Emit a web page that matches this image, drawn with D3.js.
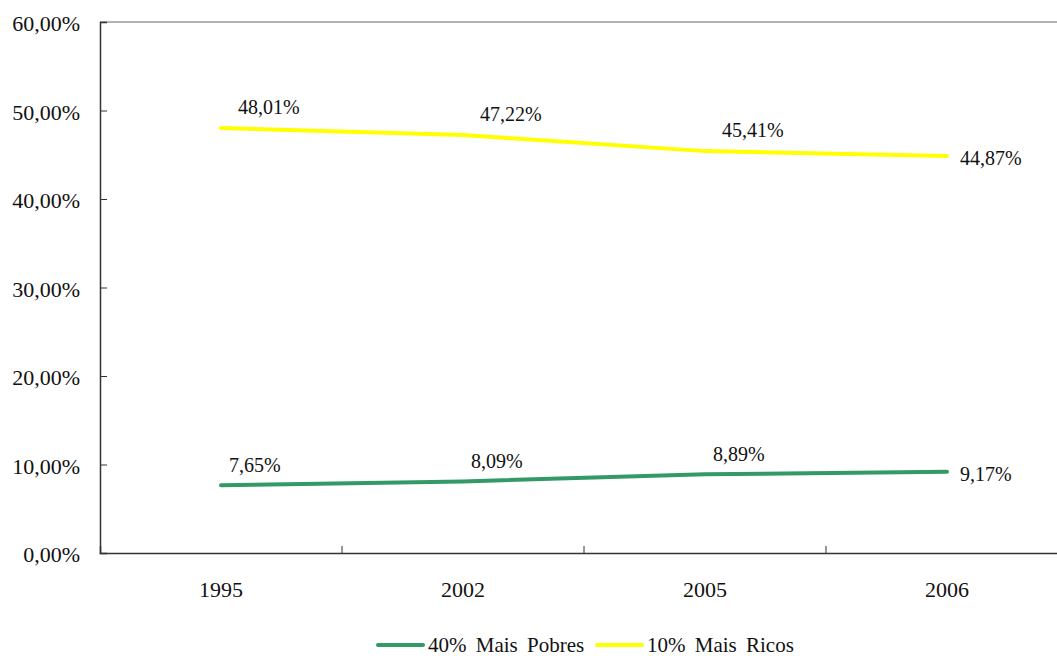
<!DOCTYPE html>
<html>
<head>
<meta charset="utf-8">
<script src="https://cdn.jsdelivr.net/npm/d3@7"></script>
<style>
  body { margin: 0; background: #fff; }
</style>
</head>
<body>
<script>
  const years = ['1995', '2002', '2005', '2006'];
  const pobres = [7.65, 8.09, 8.89, 9.17];
  const ricos = [48.01, 47.22, 45.41, 44.87];
  const seriesNames = ['40% Mais Pobres', '10% Mais Ricos'];
  const seriesColors = ['#339966', '#ffff00'];
  const yTicks = [0, 10, 20, 30, 40, 50, 60];

  const width = 1057;
  const height = 656;
  const margin = { top: 22, left: 100, bottom: 103 };
  const plotRight = 1068;

  const fmt = v => d3.format('.2f')(v).replace('.', ',') + '%';

  const svg = d3.select('body').append('svg')
    .attr('width', width)
    .attr('height', height)
    .style('font-family', "'Liberation Serif', 'DejaVu Serif', serif")
    .attr('fill', '#111');

  const x = d3.scaleBand()
    .domain(years)
    .range([margin.left, plotRight]);

  const y = d3.scaleLinear()
    .domain([0, 60])
    .range([height - margin.bottom, margin.top]);

  // top border
  svg.append('line')
    .attr('x1', margin.left).attr('x2', plotRight)
    .attr('y1', y(60)).attr('y2', y(60))
    .attr('stroke', '#999').attr('stroke-width', 1.5);

  // y axis
  const yAxis = svg.append('g')
    .attr('transform', `translate(${margin.left},0)`)
    .call(d3.axisRight(y).tickValues(yTicks).tickSize(7).tickFormat(''));
  yAxis.select('.domain').attr('stroke', '#333').attr('stroke-width', 1.5);
  yAxis.selectAll('.tick line').attr('stroke', '#333');

  svg.append('g').selectAll('text')
    .data(yTicks)
    .enter().append('text')
      .attr('x', 80)
      .attr('y', d => y(d) + 9)
      .attr('text-anchor', 'end')
      .style('font-size', '22px')
      .text(fmt);

  // x axis
  const xAxis = svg.append('g')
    .attr('transform', `translate(0,${y(0)})`)
    .call(d3.axisTop(x).tickValues(years.slice(1)).tickSize(7).tickFormat(''));
  xAxis.selectAll('.tick line')
    .attr('transform', `translate(${-x.bandwidth() / 2},0)`)
    .attr('stroke', '#333');
  xAxis.select('.domain').attr('stroke', '#333').attr('stroke-width', 1.5);

  svg.append('g').selectAll('text')
    .data(years)
    .enter().append('text')
      .attr('x', d => x(d) + x.bandwidth() / 2)
      .attr('y', y(0) + 44)
      .attr('text-anchor', 'middle')
      .style('font-size', '22px')
      .text(d => d);

  const cx = d => x(d) + x.bandwidth() / 2;
  const line = d3.line()
    .x((d, i) => cx(years[i]))
    .y(d => y(d));

  // label offsets per series: [dx, dy] above the points, last one to the right
  const labelDx = [8, 17];
  const labelDy = [-13, -14];

  [pobres, ricos].forEach((vals, s) => {
    svg.append('path')
      .datum(vals)
      .attr('fill', 'none')
      .attr('stroke', seriesColors[s])
      .attr('stroke-width', 4)
      .attr('stroke-linecap', 'round')
      .attr('d', line);

    svg.append('g').selectAll('text')
      .data(vals)
      .enter().append('text')
        .style('font-size', '20px')
        .attr('x', (d, i) => cx(years[i]) + (i === vals.length - 1 ? 13 : labelDx[s]))
        .attr('y', (d, i) => i === vals.length - 1 ? y(d) + 9 : y(d) + labelDy[s])
        .text(fmt);
  });

  // legend
  const legend = svg.append('g').attr('transform', `translate(378,645)`);
  const legendX = [0, 219];
  seriesNames.forEach((name, s) => {
    const g = legend.append('g').attr('transform', `translate(${legendX[s]},0)`);
    g.append('line')
      .attr('x1', 0).attr('x2', 45)
      .attr('stroke', seriesColors[s])
      .attr('stroke-width', 4)
      .attr('stroke-linecap', 'round');
    g.append('text')
      .attr('x', 50)
      .attr('y', 7)
      .style('font-size', '21px')
      .style('word-spacing', '4px')
      .text(name);
  });
</script>
</body>
</html>
